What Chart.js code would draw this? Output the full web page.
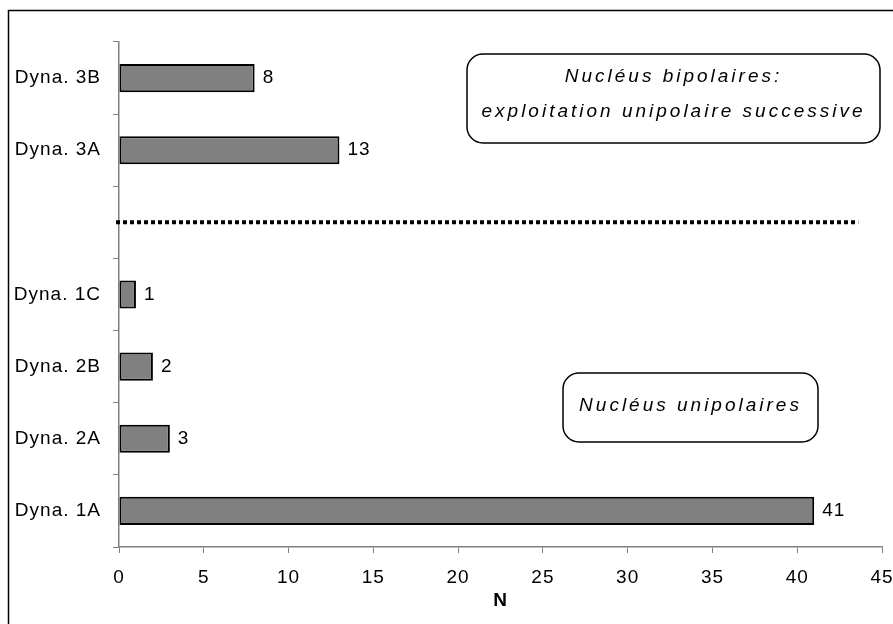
<!DOCTYPE html>
<html>
<head>
<meta charset="utf-8">
<script src="https://cdn.jsdelivr.net/npm/chart.js@4"></script>
<style>
  html, body { margin:0; padding:0; background:#fff; }
  #wrap { position:relative; width:893px; height:624px; }
</style>
</head>
<body>
<div id="wrap"><canvas id="chart"></canvas></div>
<script>
// categories top to bottom, the empty slot holds the dotted separator
const categories = ['Dyna. 3B', 'Dyna. 3A', '', 'Dyna. 1C', 'Dyna. 2B', 'Dyna. 2A', 'Dyna. 1A'];
const counts     = [8, 13, null, 1, 2, 3, 41];
const xTicks     = [0, 5, 10, 15, 20, 25, 30, 35, 40, 45];
const boxUpper   = ['Nucléus bipolaires:', 'exploitation unipolaire successive'];
const boxLower   = ['Nucléus unipolaires'];

const font = { family:"'Liberation Sans', Arial, sans-serif", size:19 };

const spacing = {
  id:'spacing',
  beforeDraw(chart) { chart.ctx.letterSpacing = '1px'; }
};

const frame = {
  id:'frame',
  beforeDraw(chart) {
    const c = chart.ctx;
    c.save();
    c.strokeStyle = '#000'; c.lineWidth = 1.5;
    c.beginPath();
    c.moveTo(8.5, 630); c.lineTo(8.5, 10.5); c.lineTo(900, 10.5);
    c.stroke();
    c.restore();
  }
};

const extras = {
  id:'extras',
  afterDatasetsDraw(chart) {
    const c = chart.ctx, x = chart.scales.x, y = chart.scales.y;
    // value labels
    c.save();
    c.font = `${font.size}px ${font.family}`;
    c.letterSpacing = '1px';
    c.fillStyle = '#000'; c.textBaseline = 'middle'; c.textAlign = 'left';
    chart.getDatasetMeta(0).data.forEach((bar, i) => {
      if (counts[i] == null) return;
      c.fillText(String(counts[i]), bar.x + 8, bar.y);
    });
    // dotted separator
    const sy = y.getPixelForValue(2);
    c.strokeStyle = '#000'; c.lineWidth = 4; c.setLineDash([4, 3]);
    c.beginPath(); c.moveTo(x.left - 3, sy); c.lineTo(x.getPixelForValue(43.6), sy); c.stroke();
    c.setLineDash([]);
    // annotation boxes
    const box = (x0, y0, x1, y1, lines, lh, dy) => {
      c.lineWidth = 1.5; c.strokeStyle = '#000'; c.fillStyle = '#fff';
      c.beginPath(); c.roundRect(x0, y0, x1 - x0, y1 - y0, 16); c.fill(); c.stroke();
      c.fillStyle = '#000'; c.textAlign = 'center'; c.textBaseline = 'middle';
      c.font = `italic ${font.size}px ${font.family}`;
      c.letterSpacing = '3px';
      const cx = (x0 + x1) / 2, cy = (y0 + y1) / 2 + dy;
      lines.forEach((t, k) => c.fillText(t, cx, cy + (k - (lines.length - 1) / 2) * lh));
    };
    box(467, 54, 880, 143, boxUpper, 35, -4);
    box(563, 373, 818, 442, boxLower, 35, -2);
    c.restore();
  }
};

new Chart(document.getElementById('chart'), {
  type:'bar',
  data:{ labels:categories, datasets:[{ data:counts,
    backgroundColor:'#808080', borderColor:'#000', borderWidth:2, borderSkipped:false,
    categoryPercentage:1, barPercentage:0.39 }]},
  options:{
    indexAxis:'y', responsive:true, maintainAspectRatio:false, animation:false,
    layout:{ padding:{ left:0, right:11, top:42, bottom:0 }},
    plugins:{ legend:{ display:false }, tooltip:{ enabled:false }},
    scales:{
      x:{ type:'linear', min:0, max:45,
        afterBuildTicks(s){ s.ticks = xTicks.map(v => ({ value:v })); },
        afterFit(s){ s.height = 77; s.paddingLeft = 0; s.paddingRight = 0; },
        border:{ color:'#808080', width:1.5 },
        grid:{ drawOnChartArea:false, color:'#808080', tickLength:6 },
        ticks:{ color:'#000', font, padding:13, maxRotation:0 },
        title:{ display:true, text:'N', color:'#000', font:{ ...font, weight:'bold' }, padding:{ top:0, bottom:12 }}},
      y:{
        afterFit(s){ s.width = 119; s.paddingTop = 0; s.paddingBottom = 0; },
        border:{ color:'#808080', width:1.5 },
        grid:{ drawOnChartArea:false, color:'#808080', tickLength:6, offset:true },
        ticks:{ color:'#000', font, padding:12 }}
    }
  },
  plugins:[spacing, frame, extras]
});
</script>
</body>
</html>
